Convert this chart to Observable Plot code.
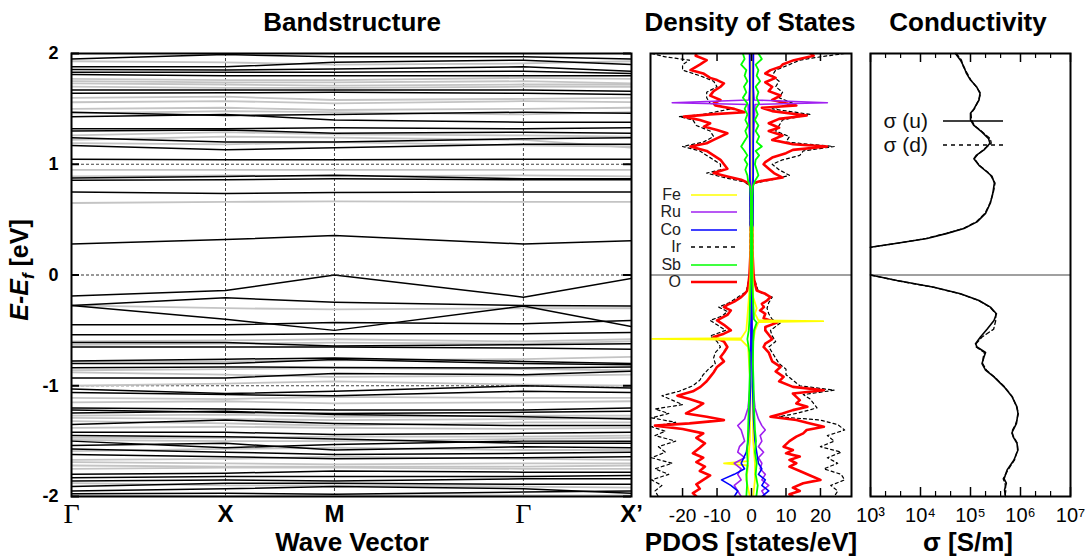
<!DOCTYPE html>
<html><head><meta charset="utf-8">
<script src="https://cdn.jsdelivr.net/npm/d3@7"></script>
<script src="https://cdn.jsdelivr.net/npm/@observablehq/plot@0.6"></script>
<style>
body{margin:0;background:#fff;}
#root{position:relative;width:1085px;height:556px;overflow:hidden;font-family:"Liberation Sans",Arial,sans-serif;background:#fff;}
.ttl{position:absolute;font-weight:bold;font-size:26px;line-height:26px;transform:translateX(-50%);white-space:nowrap;color:#000;}
.plot{position:absolute;top:0;}
.leg{position:absolute;font-size:16px;line-height:16px;color:#222;white-space:nowrap;}
</style></head><body><div id="root"></div>
<script>
// ---------------- DATA ----------------
const kLabels = ["Γ", "X", "M", "Γ", "X’"];
const kPos = [0, 0.275, 0.4696, 0.807, 1];
const eTicks = [-2, -1, 0, 1, 2];
const eGrid = [-1, 1];

// band energies (eV) at Γ, X, M, Γ, X'
const bandsBlack = [
 [1.95,1.99,1.97,1.97,1.95],[1.88,1.88,1.92,1.94,1.90],[1.855,1.85,1.86,1.88,1.84],
 [1.83,1.83,1.83,1.84,1.82],[1.81,1.80,1.80,1.80,1.80],[1.67,1.67,1.67,1.67,1.66],
 [1.64,1.645,1.65,1.64,1.63],[1.47,1.44,1.45,1.47,1.46],[1.43,1.45,1.40,1.38,1.38],
 [1.32,1.32,1.33,1.32,1.33],[1.30,1.31,1.28,1.29,1.28],[1.24,1.20,1.20,1.23,1.24],
 [1.17,1.13,1.15,1.18,1.18],[1.045,1.04,1.04,1.045,1.045],[0.875,0.89,0.90,0.87,0.87],
 [0.855,0.86,0.87,0.86,0.86],[0.75,0.735,0.745,0.75,0.75],[0.28,0.32,0.357,0.28,0.31],
 [-0.19,-0.14,0.0,-0.20,-0.03],[-0.275,-0.206,-0.245,-0.275,-0.28],[-0.275,-0.40,-0.50,-0.28,-0.465],
 [-0.45,-0.45,-0.43,-0.44,-0.41],[-0.54,-0.54,-0.53,-0.53,-0.52],[-0.61,-0.61,-0.64,-0.63,-0.62],
 [-0.65,-0.65,-0.65,-0.66,-0.67],[-0.777,-0.76,-0.75,-0.78,-0.80],[-0.80,-0.80,-0.763,-0.80,-0.81],
 [-0.838,-0.83,-0.835,-0.84,-0.83],[-0.93,-0.93,-0.89,-0.90,-0.87],[-1.03,-1.07,-1.05,-1.00,-1.02],
 [-1.06,-1.08,-1.09,-1.05,-1.06],[-1.20,-1.21,-1.22,-1.22,-1.20],[-1.22,-1.24,-1.25,-1.24,-1.23],
 [-1.245,-1.23,-1.26,-1.28,-1.30],[-1.35,-1.31,-1.34,-1.36,-1.36],[-1.42,-1.42,-1.44,-1.43,-1.42],
 [-1.45,-1.46,-1.48,-1.52,-1.52],[-1.50,-1.56,-1.53,-1.50,-1.50],[-1.54,-1.52,-1.58,-1.55,-1.56],
 [-1.57,-1.60,-1.62,-1.61,-1.60],[-1.62,-1.64,-1.66,-1.65,-1.64],[-1.80,-1.79,-1.77,-1.78,-1.78],
 [-1.83,-1.82,-1.82,-1.82,-1.81],[-1.86,-1.85,-1.86,-1.84,-1.84],[-1.91,-1.88,-1.88,-1.89,-1.89],
 [-1.95,-1.93,-1.91,-1.93,-1.97],[-1.975,-1.97,-1.98,-1.96,-1.95]
];
const bandsGray = [
 [1.93,1.92,1.90,1.91,1.93],[1.77,1.76,1.76,1.78,1.77],[1.75,1.74,1.74,1.75,1.73],
 [1.73,1.72,1.71,1.72,1.72],[1.70,1.69,1.69,1.70,1.70],[1.60,1.61,1.58,1.59,1.60],
 [1.56,1.57,1.55,1.57,1.56],[1.50,1.51,1.49,1.50,1.51],[1.46,1.48,1.47,1.45,1.47],
 [1.26,1.29,1.27,1.26,1.25],[1.22,1.25,1.24,1.22,1.15],[1.19,1.18,1.20,1.17,1.16],
 [0.95,0.95,0.95,0.95,0.95],[0.89,0.90,0.89,0.90,0.89],[0.65,0.66,0.665,0.66,0.66],
 [-0.275,-0.30,-0.31,-0.30,-0.30],[-0.60,-0.59,-0.58,-0.60,-0.58],[-0.63,-0.62,-0.61,-0.62,-0.60],
 [-0.78,-0.78,-0.77,-0.76,-0.74],[-0.86,-0.85,-0.84,-0.85,-0.86],[-0.88,-0.90,-0.92,-0.91,-0.90],
 [-1.00,-0.98,-0.96,-0.99,-1.00],[-1.11,-1.12,-1.10,-1.11,-1.11],[-1.15,-1.14,-1.16,-1.15,-1.14],
 [-1.27,-1.26,-1.28,-1.27,-1.27],[-1.29,-1.30,-1.31,-1.30,-1.29],[-1.32,-1.34,-1.36,-1.33,-1.33],
 [-1.38,-1.37,-1.38,-1.39,-1.38],[-1.47,-1.47,-1.46,-1.46,-1.45],[-1.49,-1.50,-1.50,-1.48,-1.47],
 [-1.59,-1.57,-1.56,-1.58,-1.58],[-1.67,-1.66,-1.64,-1.66,-1.67],[-1.69,-1.70,-1.71,-1.70,-1.70],
 [-1.72,-1.73,-1.73,-1.73,-1.72],[-1.75,-1.74,-1.74,-1.75,-1.75],[-1.88,-1.90,-1.90,-1.91,-1.92],
 [-1.99,-2.0,-1.99,-1.99,-1.99]
];

// PDOS [E (eV), states/eV]; spin up positive, spin down negative
const O_up = [[2.0,17],[1.98,18],[1.94,12.3],[1.9,9],[1.88,8.4],[1.85,5.5],[1.82,4],[1.78,7],[1.74,4],[1.70,6],[1.66,5],[1.62,8.4],[1.58,6],[1.55,10],[1.53,13],[1.51,3],[1.48,6],[1.44,16],[1.41,8],[1.37,5],[1.33,8],[1.30,5],[1.26,9],[1.22,6],[1.18,12],[1.16,21.9],[1.13,12],[1.10,10],[1.06,6],[1.02,4],[1.0,3.5],[0.96,5],[0.92,6.5],[0.88,9],[0.85,3],[0.83,0.5],[0.8,0.3],[0.5,0.2],[0.2,0.3],[0.0,0.6],[-0.05,0.8],[-0.1,1.2],[-0.14,1.5],[-0.17,4],[-0.2,5.5],[-0.23,4.5],[-0.26,3],[-0.29,3.6],[-0.32,2.5],[-0.35,4],[-0.39,3.5],[-0.43,7.4],[-0.47,4],[-0.5,4],[-0.54,5],[-0.58,6],[-0.62,4],[-0.65,3.5],[-0.70,5],[-0.74,5.5],[-0.78,6],[-0.83,8.4],[-0.87,7],[-0.92,9.3],[-0.96,8],[-1.01,12],[-1.04,21],[-1.07,12],[-1.10,13],[-1.13,14],[-1.16,13],[-1.19,16.2],[-1.22,12],[-1.25,9],[-1.28,5.5],[-1.31,13],[-1.34,17],[-1.37,21],[-1.40,16],[-1.43,15],[-1.46,13],[-1.50,11],[-1.55,9.3],[-1.58,12],[-1.61,10],[-1.64,14],[-1.67,11],[-1.70,13],[-1.73,11],[-1.77,14],[-1.81,17],[-1.85,20],[-1.88,15],[-1.92,12],[-1.95,14],[-1.98,11],[-2.0,12]];
const O_dn = [[2.0,-16],[1.98,-16.2],[1.94,-13],[1.9,-15],[1.85,-17.7],[1.82,-14],[1.78,-12],[1.76,-10],[1.73,-8],[1.70,-9],[1.66,-11],[1.62,-12],[1.58,-9],[1.55,-11],[1.53,-10.5],[1.50,-5],[1.47,-2],[1.45,-12],[1.43,-19.6],[1.40,-15],[1.37,-12],[1.34,-13.8],[1.31,-10],[1.28,-7],[1.25,-9],[1.22,-11],[1.19,-13],[1.16,-17.7],[1.12,-13],[1.08,-11],[1.04,-9],[1.0,-8],[0.96,-7],[0.92,-11],[0.89,-7],[0.86,-3],[0.83,-0.8],[0.8,-0.3],[0.5,-0.2],[0.2,-0.3],[0.0,-0.6],[-0.05,-0.8],[-0.1,-1],[-0.14,-1.2],[-0.17,-2],[-0.2,-3],[-0.24,-5],[-0.27,-7],[-0.29,-8],[-0.32,-6],[-0.36,-7],[-0.41,-10],[-0.45,-8],[-0.5,-6],[-0.53,-8],[-0.56,-11],[-0.6,-8],[-0.65,-7],[-0.7,-8],[-0.74,-9],[-0.78,-8],[-0.83,-10],[-0.88,-11],[-0.92,-12],[-0.96,-13],[-1.01,-14.8],[-1.05,-17],[-1.09,-21.5],[-1.12,-18],[-1.16,-14],[-1.2,-16],[-1.25,-19],[-1.28,-13],[-1.31,-8],[-1.34,-18],[-1.36,-28],[-1.39,-20],[-1.43,-14],[-1.47,-16],[-1.52,-13.5],[-1.56,-15],[-1.61,-17],[-1.65,-14],[-1.69,-16],[-1.73,-13.5],[-1.77,-15],[-1.81,-12],[-1.85,-14],[-1.89,-16],[-1.93,-15],[-1.97,-17],[-2.0,-16]];
const Ir_up = [[2.0,27],[1.97,20],[1.94,14],[1.9,11],[1.85,7],[1.8,6],[1.75,8],[1.7,7],[1.65,9],[1.6,8],[1.55,12],[1.5,6],[1.45,17],[1.4,9],[1.35,8],[1.3,7],[1.25,11],[1.2,10],[1.16,24],[1.12,15],[1.08,14],[1.04,9],[1.0,6],[0.95,8],[0.9,11],[0.86,6],[0.83,1],[0.8,0.2],[0,0.5],[-0.1,1.5],[-0.15,2],[-0.2,6],[-0.25,5],[-0.3,4.5],[-0.35,5],[-0.4,6],[-0.43,8.5],[-0.5,5.5],[-0.55,6],[-0.6,7],[-0.65,5],[-0.7,6],[-0.75,7],[-0.8,8],[-0.85,10],[-0.9,10],[-0.95,12],[-1.0,14],[-1.04,24],[-1.08,15],[-1.12,17],[-1.16,18],[-1.2,19],[-1.25,13],[-1.28,8],[-1.31,20],[-1.35,25],[-1.4,27],[-1.45,22],[-1.5,24],[-1.55,20],[-1.6,26],[-1.65,22],[-1.7,25],[-1.75,21],[-1.8,26],[-1.85,27],[-1.9,23],[-1.95,25],[-2.0,24]];
const Ir_dn = [[2.0,-29],[1.97,-25],[1.94,-18],[1.9,-20],[1.85,-20],[1.8,-15],[1.75,-11],[1.7,-10],[1.65,-13],[1.6,-13],[1.55,-12],[1.5,-6],[1.45,-14],[1.43,-21],[1.4,-17],[1.35,-16],[1.3,-12],[1.25,-11],[1.2,-14],[1.16,-20],[1.12,-15],[1.08,-13],[1.04,-11],[1.0,-9],[0.95,-9],[0.92,-13],[0.88,-8],[0.84,-2],[0.8,-0.3],[0,-0.5],[-0.1,-1.2],[-0.15,-1.5],[-0.2,-4],[-0.25,-6.5],[-0.29,-9.5],[-0.33,-7],[-0.37,-8.5],[-0.41,-12],[-0.45,-10],[-0.5,-7.5],[-0.55,-12],[-0.6,-10],[-0.65,-9],[-0.7,-10.5],[-0.75,-11],[-0.8,-10.5],[-0.85,-12.5],[-0.9,-14],[-0.95,-15],[-1.0,-17],[-1.05,-21],[-1.09,-26],[-1.13,-23],[-1.17,-20],[-1.21,-28],[-1.25,-24],[-1.29,-29],[-1.33,-22],[-1.37,-29],[-1.41,-25],[-1.45,-28],[-1.5,-22],[-1.55,-27],[-1.6,-25],[-1.65,-29],[-1.7,-23],[-1.75,-28],[-1.8,-24],[-1.85,-29],[-1.9,-26],[-1.95,-28],[-2.0,-27]];
const Sb_up = [[2.0,2],[1.95,3],[1.9,1.2],[1.85,2],[1.8,1.5],[1.75,2.5],[1.7,1.2],[1.65,2],[1.6,1.5],[1.55,2.2],[1.5,1.2],[1.45,1.8],[1.4,1],[1.35,2],[1.3,1.2],[1.25,2.2],[1.2,1.5],[1.16,3],[1.12,1.2],[1.08,2.2],[1.04,1.2],[1.0,1],[0.95,1.5],[0.9,2],[0.85,1],[0.8,0.4],[0.7,0.2],[0,0.2],[-0.2,0.4],[-0.4,0.7],[-0.43,1.5],[-0.5,0.7],[-0.6,0.5],[-0.8,0.4],[-1.0,0.6],[-1.2,0.7],[-1.4,1],[-1.5,1.3],[-1.6,1],[-1.7,1.5],[-1.8,1.2],[-1.9,1.8],[-2.0,1.4]];
const Sb_dn = [[2.0,-2.5],[1.95,-2],[1.9,-3],[1.85,-1.5],[1.8,-2],[1.75,-1.2],[1.7,-2.2],[1.65,-1.5],[1.6,-2.5],[1.55,-1.2],[1.5,-2],[1.45,-1.2],[1.4,-1.8],[1.35,-1],[1.3,-1.8],[1.25,-1.2],[1.2,-2.2],[1.16,-3],[1.12,-2],[1.08,-1.2],[1.04,-2],[1.0,-1.2],[0.95,-1.8],[0.9,-1.2],[0.85,-1],[0.8,-0.4],[0.7,-0.2],[0,-0.2],[-0.2,-0.4],[-0.4,-0.6],[-0.5,-0.8],[-0.58,-1.2],[-0.7,-0.6],[-0.9,-0.5],[-1.1,-0.7],[-1.3,-0.9],[-1.5,-1.1],[-1.6,-1.3],[-1.7,-1.1],[-1.8,-1.5],[-1.9,-1.3],[-2.0,-1.5]];
const Co_up = [[2.0,0.5],[1.5,0.5],[1.0,0.5],[0.45,0.4],[0.4,0],[-0.2,0],[-1.0,0.3],[-1.3,0.6],[-1.5,1],[-1.6,1.5],[-1.7,2],[-1.75,3],[-1.8,2],[-1.85,4],[-1.9,3],[-1.95,5],[-2.0,3]];
const Co_dn = [[2.0,-0.5],[1.5,-0.5],[1.0,-0.5],[0.45,-0.4],[0.4,0],[-0.2,0],[-1.0,-0.3],[-1.3,-0.6],[-1.5,-1],[-1.6,-1.5],[-1.7,-3],[-1.75,-2],[-1.8,-5],[-1.85,-8.7],[-1.9,-6],[-1.95,-4],[-2.0,-5]];
const Ru_up = [[2.0,0.6],[1.7,0.5],[1.58,0.8],[1.555,22],[1.54,1],[1.2,0.5],[0.9,0.5],[0.8,0.2],[0,0],[-1.0,0.4],[-1.2,1],[-1.3,2],[-1.36,3],[-1.4,4],[-1.45,2.5],[-1.5,3],[-1.55,2],[-1.6,3.5],[-1.65,2],[-1.7,3],[-1.75,2.5],[-1.8,4],[-1.85,3],[-1.9,5],[-1.95,3],[-2.0,4]];
const Ru_dn = [[2.0,-0.6],[1.7,-0.5],[1.58,-0.8],[1.555,-23],[1.54,-1],[1.2,-0.5],[0.9,-0.5],[0.8,-0.2],[0,0],[-1.0,-0.4],[-1.2,-1],[-1.3,-2],[-1.36,-4],[-1.4,-3],[-1.45,-2.5],[-1.5,-2],[-1.55,-3.5],[-1.6,-4],[-1.65,-2],[-1.7,-5],[-1.75,-3],[-1.8,-4],[-1.85,-3],[-1.9,-5],[-1.95,-4],[-2.0,-3]];
const Fe_up = [[2.0,0.3],[0,0.3],[-0.2,0.5],[-0.3,1.5],[-0.35,1],[-0.41,2],[-0.417,20.8],[-0.425,2],[-0.5,1],[-0.6,0.5],[-1.0,0.3],[-1.5,0.5],[-1.7,1],[-1.85,1],[-2.0,0.5]];
const Fe_dn = [[2.0,-0.3],[0,-0.3],[-0.3,-1],[-0.5,-1.5],[-0.57,-3],[-0.577,-28.8],[-0.585,-3],[-0.65,-1],[-1.0,-0.3],[-1.5,-0.5],[-1.68,-1],[-1.7,-8],[-1.72,-1],[-1.85,-1.5],[-2.0,-0.5]];
const dosTicks = [-20, -10, 0, 10, 20];
const dosNames = ["Fe", "Ru", "Co", "Ir", "Sb", "O"];
const dosColors = ["#ffff00", "#a020f0", "#0000ff", "#000000", "#00ff00", "#ff0000"];

// conductivity [E (eV), sigma (S/m)]
const sigU_hi = [[2.0,5.0e4],[1.94,6.3e4],[1.88,7.4e4],[1.82,8.3e4],[1.76,1.0e5],[1.7,1.32e5],[1.64,1.55e5],[1.58,1.48e5],[1.5,1.17e5],[1.46,1.0e5],[1.4,1.0e5],[1.35,1.17e5],[1.29,1.7e5],[1.23,2.3e5],[1.19,2.45e5],[1.13,1.86e5],[1.08,1.3e5],[1.05,1.17e5],[0.99,1.48e5],[0.93,2.14e5],[0.89,2.7e5],[0.83,3.0e5],[0.74,2.8e5],[0.65,2.5e5],[0.556,2.0e5],[0.48,1.35e5],[0.42,7.4e4],[0.376,3.4e4],[0.33,1.35e4],[0.286,3.4e3],[0.25,1.0e3]];
const sigD_hi = [[2.0,5.2e4],[1.94,6.6e4],[1.88,7.2e4],[1.82,8.6e4],[1.76,1.02e5],[1.7,1.3e5],[1.64,1.6e5],[1.58,1.45e5],[1.5,1.2e5],[1.46,1.02e5],[1.4,1.05e5],[1.35,1.2e5],[1.29,1.75e5],[1.23,2.5e5],[1.19,2.6e5],[1.13,1.8e5],[1.08,1.35e5],[1.05,1.2e5],[0.99,1.5e5],[0.93,2.2e5],[0.89,2.6e5],[0.83,3.1e5],[0.74,2.85e5],[0.65,2.45e5],[0.556,1.95e5],[0.48,1.3e5],[0.42,7.2e4],[0.376,3.3e4],[0.33,1.3e4],[0.286,3.3e3],[0.25,1.0e3]];
const sigU_lo = [[0.0,1.0e3],[-0.05,3.4e3],[-0.11,1.86e4],[-0.17,6.3e4],[-0.23,1.48e5],[-0.29,2.5e5],[-0.35,3.3e5],[-0.41,2.95e5],[-0.49,2.14e5],[-0.56,1.58e5],[-0.62,1.26e5],[-0.65,1.35e5],[-0.7,2.0e5],[-0.74,1.86e5],[-0.80,1.7e5],[-0.86,2.0e5],[-0.92,2.95e5],[-1.01,4.7e5],[-1.1,6.8e5],[-1.19,8.5e5],[-1.25,8.9e5],[-1.34,8.3e5],[-1.42,6.8e5],[-1.46,7.1e5],[-1.52,8.5e5],[-1.58,8.9e5],[-1.67,7.4e5],[-1.76,5.4e5],[-1.84,4.7e5],[-1.88,5.2e5],[-1.94,4.8e5],[-2.0,5.0e5]];
const sigD_lo = [[0.0,1.0e3],[-0.05,3.3e3],[-0.11,1.8e4],[-0.17,6.2e4],[-0.23,1.45e5],[-0.29,2.45e5],[-0.35,3.2e5],[-0.41,3.2e5],[-0.49,2.9e5],[-0.56,1.7e5],[-0.62,1.3e5],[-0.65,1.3e5],[-0.7,1.9e5],[-0.74,1.8e5],[-0.80,1.75e5],[-0.86,2.1e5],[-0.92,3.0e5],[-1.01,4.8e5],[-1.1,6.9e5],[-1.19,8.3e5],[-1.25,9.1e5],[-1.34,8.1e5],[-1.42,6.6e5],[-1.46,7.3e5],[-1.52,8.7e5],[-1.58,8.7e5],[-1.67,7.6e5],[-1.76,5.6e5],[-1.84,4.5e5],[-1.88,4.9e5],[-1.94,5.1e5],[-2.0,4.9e5]];
const sigDecades = [1e3, 1e4, 1e5, 1e6, 1e7];
const sigMinor = [2e3, 4e3, 2e4, 4e4, 2e5, 4e5, 2e6, 4e6];
const sigNames = ["σ (u)", "σ (d)"];

// ---------------- LAYOUT ----------------
const root = document.getElementById("root");
const FONT = "Liberation Sans, Arial, sans-serif";
const H = 556, MT = 53, MB = 60;
const frameH = H - MT - MB;
const baseStyle = {background: "transparent", overflow: "visible", fontFamily: FONT, color: "#000"};

function place(svg, left) { svg.classList.add("plot"); svg.style.left = left + "px"; root.appendChild(svg); }

// --- Band structure ---
const bandRows = (bands, tag) => bands.flatMap((b, i) => b.map((E, j) => ({band: tag + i, k: kPos[j], E})));
const kRows = kLabels.map((label, i) => ({label, k: kPos[i]}));
const bandW = 650, bandML = 71, bandMR = 19, bandFW = bandW - bandML - bandMR;
const bandPlot = Plot.plot({
  width: bandW, height: H, marginLeft: bandML, marginRight: bandMR, marginTop: MT, marginBottom: MB,
  x: {domain: [0, 1], axis: null},
  y: {domain: [-2, 2]},
  style: baseStyle,
  marks: [
    Plot.ruleX(kPos.slice(1, 4), {stroke: "#444", strokeDasharray: "3,2", strokeWidth: 1}),
    Plot.ruleY(eGrid, {stroke: "#444", strokeDasharray: "3,2", strokeWidth: 1}),
    Plot.line(bandRows(bandsGray, "g"), {x: "k", y: "E", z: "band", stroke: "#c4c4c4", strokeWidth: 1.8, clip: true}),
    Plot.line(bandRows(bandsBlack, "b"), {x: "k", y: "E", z: "band", stroke: "#000", strokeWidth: 1.5, clip: true}),
    Plot.ruleY([0], {stroke: "#333", strokeDasharray: "3,2", strokeWidth: 1}),
    Plot.tickY(eTicks, {y: d => d, insetRight: bandFW - 8, stroke: "#000", strokeWidth: 2}),
    Plot.tickY(eTicks, {y: d => d, insetLeft: bandFW - 8, stroke: "#000", strokeWidth: 2}),
    Plot.axisY(eTicks, {tickSize: 0, tickPadding: 13, fontSize: 18, fontWeight: "bold", tickFormat: d => String(d), label: null}),
    Plot.text(kRows.filter(d => d.label === "Γ"), {x: "k", text: "label", frameAnchor: "bottom", dy: 26, fontSize: 28, fontFamily: "Liberation Serif, Times New Roman, serif"}),
    Plot.text(kRows.filter(d => d.label !== "Γ"), {x: "k", text: "label", frameAnchor: "bottom", dy: 25, fontSize: 24, fontWeight: "bold"}),
    Plot.frame({stroke: "#000", strokeWidth: 2})
  ]
});
place(bandPlot, 0);

// --- DOS ---
const dosSeries = [
  {name: "Ir", up: Ir_up, dn: Ir_dn, color: "#000", w: 1.2, dash: "3,3"},
  {name: "O", up: O_up, dn: O_dn, color: "#ff0000", w: 2.6},
  {name: "Fe", up: Fe_up, dn: Fe_dn, color: "#ffff00", w: 1.8},
  {name: "Ru", up: Ru_up, dn: Ru_dn, color: "#a020f0", w: 1.6},
  {name: "Co", up: Co_up, dn: Co_dn, color: "#0000ff", w: 1.6},
  {name: "Sb", up: Sb_up, dn: Sb_dn, color: "#00ff00", w: 1.8}
];
const dosW = 220, dosML = 10, dosMR = 9;
const dosMarks = [Plot.ruleY([0], {stroke: "#808080", strokeWidth: 1.5})];
for (const s of dosSeries) {
  for (const arr of [s.up, s.dn]) {
    dosMarks.push(Plot.line(arr, {x: d => d[1], y: d => d[0], stroke: s.color, strokeWidth: s.w, strokeDasharray: s.dash, clip: true}));
  }
}
const dosPlot = Plot.plot({
  width: dosW, height: H, marginLeft: dosML, marginRight: dosMR, marginTop: MT, marginBottom: MB,
  x: {domain: [-29.3, 29.0]},
  y: {domain: [-2, 2], axis: null},
  style: baseStyle,
  marks: [
    ...dosMarks,
    Plot.tickX(dosTicks, {x: d => d, insetTop: frameH - 8, stroke: "#000", strokeWidth: 1.5}),
    Plot.tickX(dosTicks, {x: d => d, insetBottom: frameH - 8, stroke: "#000", strokeWidth: 1.5}),
    Plot.axisX(dosTicks, {tickSize: 0, tickPadding: 12, fontSize: 19, tickFormat: d => String(d), label: null}),
    Plot.frame({stroke: "#000", strokeWidth: 2})
  ]
});
place(dosPlot, 640);

// --- Conductivity ---
const sup = {3: "³", 4: "⁴", 5: "⁵", 6: "⁶", 7: "⁷"};
const condW = 225, condML = 10, condMR = 15;
const condPlot = Plot.plot({
  width: condW, height: H, marginLeft: condML, marginRight: condMR, marginTop: MT, marginBottom: MB,
  x: {type: "log", domain: [1e3, 1e7]},
  y: {domain: [-2, 2], axis: null},
  style: baseStyle,
  marks: [
    Plot.ruleY([0], {stroke: "#808080", strokeWidth: 1.5}),
    Plot.line(sigD_hi, {x: d => d[1], y: d => d[0], stroke: "#000", strokeWidth: 1.3, strokeDasharray: "4,3"}),
    Plot.line(sigD_lo, {x: d => d[1], y: d => d[0], stroke: "#000", strokeWidth: 1.3, strokeDasharray: "4,3"}),
    Plot.line(sigU_hi, {x: d => d[1], y: d => d[0], stroke: "#000", strokeWidth: 1.6}),
    Plot.line(sigU_lo, {x: d => d[1], y: d => d[0], stroke: "#000", strokeWidth: 1.6}),
    Plot.tickX(sigDecades, {x: d => d, insetTop: frameH - 9, stroke: "#000", strokeWidth: 1.5}),
    Plot.tickX(sigDecades, {x: d => d, insetBottom: frameH - 9, stroke: "#000", strokeWidth: 1.5}),
    Plot.tickX(sigMinor, {x: d => d, insetTop: frameH - 5, stroke: "#000", strokeWidth: 1.2}),
    Plot.tickX(sigMinor, {x: d => d, insetBottom: frameH - 5, stroke: "#000", strokeWidth: 1.2}),
    Plot.axisX(sigDecades, {tickSize: 0, tickPadding: 11, fontSize: 20, tickFormat: d => "10" + sup[Math.round(Math.log10(d))], label: null}),
    Plot.frame({stroke: "#000", strokeWidth: 2})
  ]
});
place(condPlot, 860);

// --- Titles and labels ---
function addText(html, cx, cy, cls) {
  const d = document.createElement("div");
  d.className = cls; d.innerHTML = html;
  d.style.left = cx + "px"; d.style.top = (cy - 13) + "px";
  root.appendChild(d);
  return d;
}
addText("Bandstructure", 352, 22, "ttl");
addText("Density of States", 750, 22, "ttl");
addText("Conductivity", 968, 22, "ttl");
addText("Wave Vector", 352, 542, "ttl");
addText("PDOS [states/eV]", 751, 542, "ttl");
addText("σ [S/m]", 968, 542, "ttl");

const ylab = document.createElement("div");
ylab.style.cssText = "position:absolute;left:24px;top:270px;transform:translate(-50%,-50%) rotate(-90deg);font-weight:bold;font-size:25px;white-space:nowrap;line-height:25px;";
ylab.innerHTML = '<i>E-E<sub style="font-size:17px">f</sub></i> [eV]';
root.appendChild(ylab);

// DOS legend
const svgNS = "http://www.w3.org/2000/svg";
dosNames.forEach((name, i) => {
  const y = 195 + i * 17.4;
  const lab = document.createElement("div");
  lab.className = "leg";
  lab.style.cssText += `right:${1085 - 681}px;top:${y - 8}px;text-align:right;`;
  lab.textContent = name;
  root.appendChild(lab);
  const s = document.createElementNS(svgNS, "svg");
  s.setAttribute("width", 46); s.setAttribute("height", 6);
  s.style.cssText = `position:absolute;left:691px;top:${y - 3}px;`;
  const ln = document.createElementNS(svgNS, "line");
  ln.setAttribute("x1", 0); ln.setAttribute("x2", 46); ln.setAttribute("y1", 3); ln.setAttribute("y2", 3);
  ln.setAttribute("stroke", dosColors[i]); ln.setAttribute("stroke-width", name === "O" ? 2.4 : 1.6);
  if (name === "Ir") ln.setAttribute("stroke-dasharray", "4,4");
  s.appendChild(ln); root.appendChild(s);
});

// Conductivity legend
sigNames.forEach((name, i) => {
  const y = 121 + i * 24;
  const lab = document.createElement("div");
  lab.style.cssText = `position:absolute;right:${1085 - 928}px;top:${y - 11}px;font-size:21px;line-height:21px;white-space:nowrap;color:#111;`;
  lab.textContent = name;
  root.appendChild(lab);
  const s = document.createElementNS(svgNS, "svg");
  s.setAttribute("width", 60); s.setAttribute("height", 6);
  s.style.cssText = `position:absolute;left:943px;top:${y - 3}px;`;
  const ln = document.createElementNS(svgNS, "line");
  ln.setAttribute("x1", 0); ln.setAttribute("x2", 60); ln.setAttribute("y1", 3); ln.setAttribute("y2", 3);
  ln.setAttribute("stroke", "#000"); ln.setAttribute("stroke-width", 1.5);
  if (i === 1) ln.setAttribute("stroke-dasharray", "4,4");
  s.appendChild(ln); root.appendChild(s);
});
</script></body></html>
